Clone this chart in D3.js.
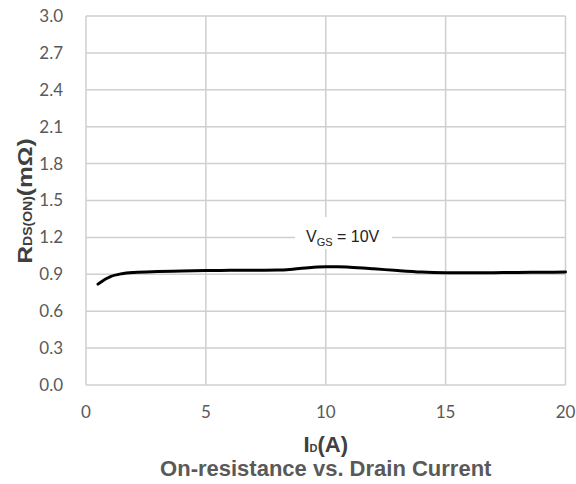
<!DOCTYPE html>
<html><head><meta charset="utf-8">
<script src="https://cdn.jsdelivr.net/npm/d3@7"></script>
<style>body{margin:0;background:#fff}</style>
</head><body>
<svg id="c" width="576" height="484"></svg>
<script>
const xTicks = [0, 5, 10, 15, 20];
const yTicks = [0, 0.3, 0.6, 0.9, 1.2, 1.5, 1.8, 2.1, 2.4, 2.7, 3.0];
const currentA = [0.5,0.8,1,1.5,2,3,4,5,6,7,8,8.5,9,9.5,10,10.5,11,12,13,14,15,16,17,18,19,20];
const rdsOn = [0.82,0.86,0.88,0.905,0.915,0.922,0.926,0.93,0.932,0.933,0.935,0.94,0.95,0.958,0.962,0.962,0.958,0.945,0.93,0.918,0.913,0.912,0.913,0.915,0.917,0.918];

const svg = d3.select("#c");
const L = 86, R = 565.5, T = 16, B = 385;
const x = d3.scaleLinear().domain([0, 20]).range([L, R]);
const y = d3.scaleLinear().domain([0, 3]).range([B, T]);
const grid = "#cfcfcf";

// grid
svg.append("g").selectAll("line").data(yTicks).join("line")
  .attr("x1", L).attr("x2", R).attr("y1", d => y(d)).attr("y2", d => y(d))
  .attr("stroke", grid).attr("stroke-width", 1.5);
svg.append("g").selectAll("line").data(xTicks).join("line")
  .attr("x1", d => x(d)).attr("x2", d => x(d)).attr("y1", T).attr("y2", B)
  .attr("stroke", grid).attr("stroke-width", 1.5);

// tick labels
const tickFont = "Lato, 'Open Sans', sans-serif";
svg.append("g").selectAll("text").data(yTicks).join("text")
  .attr("x", 63).attr("y", d => y(d)).attr("dy", "0.35em")
  .attr("text-anchor", "end").attr("font-family", tickFont).attr("font-size", 17)
  .attr("fill", "#595959").text(d => d.toFixed(1));
svg.append("g").selectAll("text").data(xTicks).join("text")
  .attr("x", d => x(d)).attr("y", 418)
  .attr("text-anchor", "middle").attr("font-family", tickFont).attr("font-size", 17)
  .attr("fill", "#595959").text(d => d);

// label box
svg.append("rect").attr("x", 295).attr("y", 217).attr("width", 97).attr("height", 32).attr("fill", "#fff");
const lab = svg.append("text").attr("x", 306).attr("y", 242)
  .attr("font-family", "'Liberation Sans', Arial, sans-serif").attr("font-size", 16).attr("fill", "#222");
lab.append("tspan").text("V");
lab.append("tspan").attr("font-size", 11).attr("dy", 4).text("GS");
lab.append("tspan").attr("dy", -4).text(" = 10V");

// curve
const line = d3.line().x((d, i) => x(currentA[i])).y(d => y(d)).curve(d3.curveMonotoneX);
svg.append("path").datum(rdsOn).attr("d", line)
  .attr("fill", "none").attr("stroke", "#000").attr("stroke-width", 3).attr("stroke-linecap", "round");

// axis titles
const titleFont = "'Liberation Sans', Arial, sans-serif";
const xt = svg.append("text").attr("x", x(10)).attr("y", 452).attr("text-anchor", "middle")
  .attr("font-family", titleFont).attr("font-weight", "bold").attr("font-size", 22).attr("fill", "#404040");
xt.append("tspan").text("I");
xt.append("tspan").attr("font-size", 11).text("D");
xt.append("tspan").text("(A)");

svg.append("text").attr("x", x(10)).attr("y", 476).attr("text-anchor", "middle")
  .attr("font-family", titleFont).attr("font-weight", "bold").attr("font-size", 22).attr("fill", "#595959")
  .text("On-resistance vs. Drain Current");

const yt = svg.append("text").attr("transform", `translate(32,201) rotate(-90) scale(1.17,1)`)
  .attr("text-anchor", "middle")
  .attr("font-family", titleFont).attr("font-weight", "bold").attr("font-size", 21).attr("fill", "#404040");
yt.append("tspan").text("R");
yt.append("tspan").attr("font-size", 12).text("DS(ON)");
yt.append("tspan").text("(mΩ)");
</script>
</body></html>
